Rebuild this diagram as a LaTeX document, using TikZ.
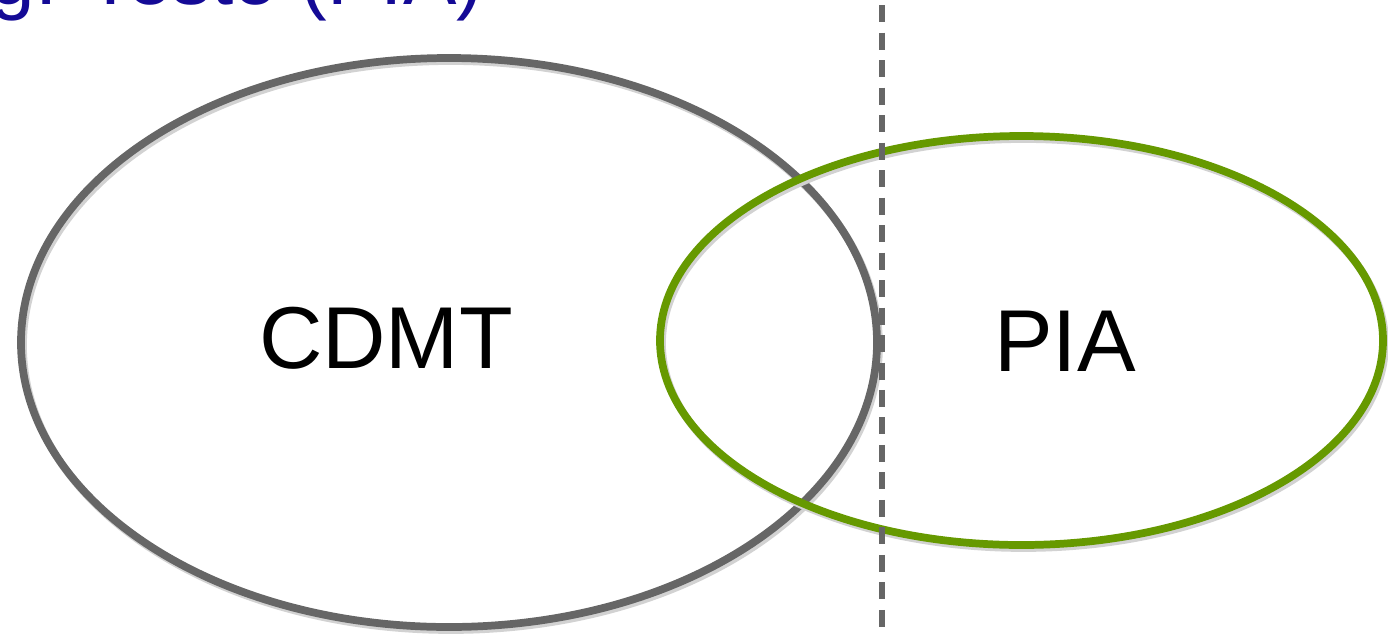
\documentclass[tikz,border=0pt]{standalone}
\usepackage{fontspec}
\setmainfont{Liberation Sans}
\definecolor{cdmtgray}{HTML}{666666}
\definecolor{piagreen}{HTML}{669900}
\definecolor{titleblue}{RGB}{20,10,150}
\definecolor{shadowgray}{HTML}{D2D2D2}
\tikzset{
	ring/.style={line width=2.2pt},
	ringshadow/.style={line width=2.2pt, shadowgray},
	biglabel/.style={font=\fontsize{25}{30}\selectfont, inner sep=0pt}
}
\begin{document}
\begin{tikzpicture}
	\useasboundingbox (0,0) rectangle (13.88,6.34);
	\clip (0,0) rectangle (13.88,6.34);

	\coordinate (C) at (4.49,2.915);
	\coordinate (P) at (10.215,2.935);
	\coordinate (T) at (8.82,6.29);
	\coordinate (B) at (8.82,0.04);

	\node [anchor=base east, inner sep=0pt, text=titleblue, font=\fontsize{22.8}{27}\selectfont] (title) at (4.84,6.30) {g: Testo (PIA)};

	\draw [ringshadow] ([shift={(0.02,-0.03)}]C) ellipse [x radius=4.28, y radius=2.845];
	\draw [ring, cdmtgray] (C) ellipse [x radius=4.28, y radius=2.845];
	\draw [ringshadow] ([shift={(0.02,-0.03)}]P) ellipse [x radius=3.615, y radius=2.045];
	\draw [ring, piagreen] (P) ellipse [x radius=3.615, y radius=2.045];

	\draw [cdmtgray, line width=1.7pt, dash pattern=on 0.17cm off 0.105cm] (T) -- (B);

	\node [biglabel] (cdmt) at (3.86,2.96) {CDMT};
	\node [biglabel] (pia) at (10.65,2.93) {PIA};
\end{tikzpicture}
\end{document}
